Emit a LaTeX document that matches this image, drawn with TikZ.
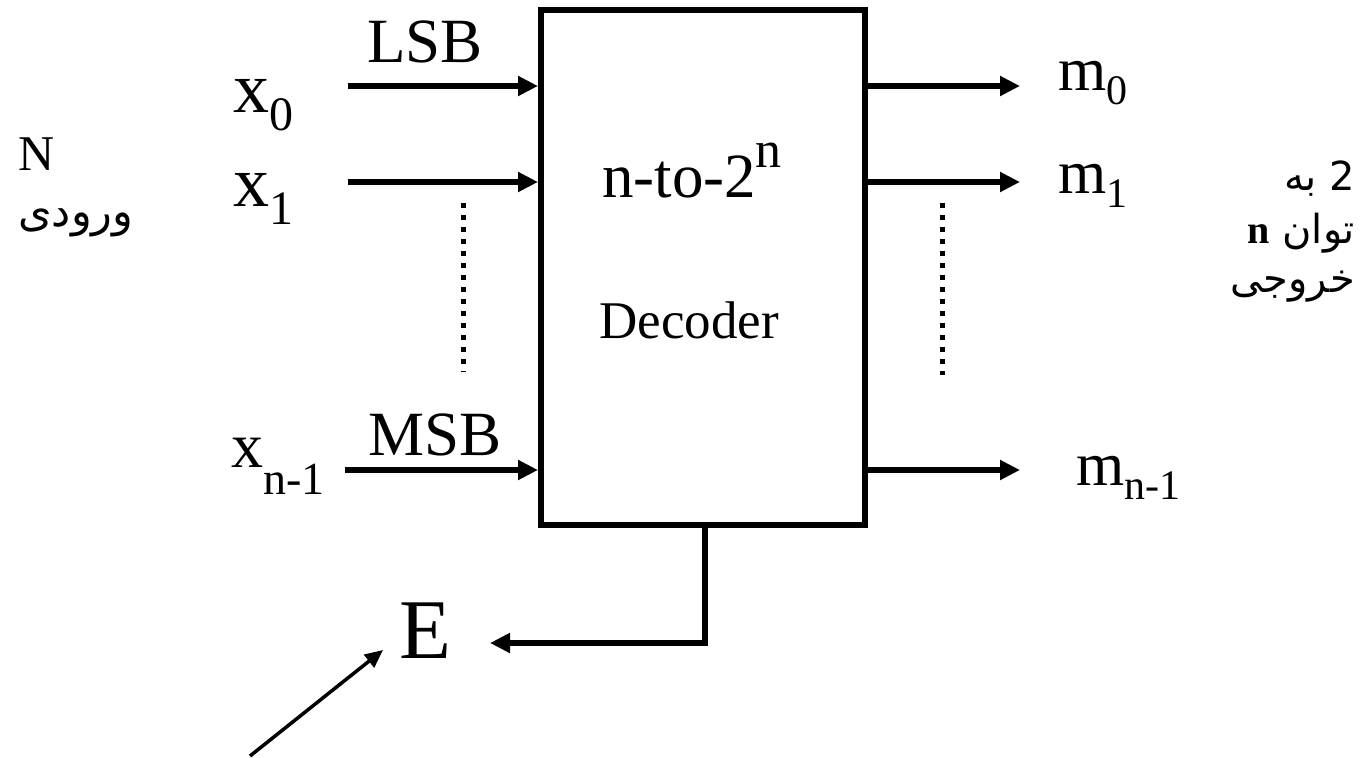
\documentclass[tikz,border=0pt]{standalone}
\usepackage{fontspec}
\setmainfont{Liberation Serif}
\newfontfamily\arabicfont[Script=Arabic]{DejaVu Sans}
\TeXXeTstate=1
\usetikzlibrary{arrows.meta}

\newcommand{\fsz}[1]{\fontsize{#1}{#1}\selectfont}
% letter with a lowered index: size, letter, index size, drop, index
\newcommand{\lowidx}[5]{{\fsz{#1}#2\raisebox{-#4pt}{\fsz{#3}#5}}}

\begin{document}
\begin{tikzpicture}[
			x=1pt, y=-1pt,
			wire/.style={line width=6pt, -{Triangle[length=20pt,width=19pt]}},
			thinwire/.style={line width=3.5pt, -{Triangle[length=18pt,width=16pt]}},
			dots/.style={line width=5pt, dash pattern=on 5pt off 7pt},
			decbox/.style={
				draw, line width=6pt, inner sep=0pt,
				minimum width=324pt, minimum height=515pt
			},
			lbl/.style={inner sep=0pt, anchor=base west},
			rlbl/.style={inner sep=0pt, anchor=base east}
			]
			\useasboundingbox (0,0) rectangle (1361,758);
			
			%% ── Decoder block ───────────────────────────────────────────
			\node[decbox] (dec) at (703,267.5) {};
			\node[inner sep=0pt, anchor=base] (title) at (692,197)
				{\fsz{63}n-to-2\raisebox{30pt}{\fsz{52}n}};
			\node[inner sep=0pt, anchor=base] (name) at (689,338) {\fsz{53}Decoder};
			
			%% ── Inputs ─────────────────────────────────────────────────
			\node[lbl] (x0) at (233,112) {\lowidx{72}{x}{48}{18}{0}};
			\node[lbl] (x1) at (233,206) {\lowidx{72}{x}{48}{18}{1}};
			\node[lbl] (xn) at (231,467) {\lowidx{64}{x}{46}{27}{n-1}};
			\node[lbl] (lsb) at (367,62)  {\fsz{63}LSB};
			\node[lbl] (msb) at (368,455) {\fsz{63}MSB};
			
			\coordinate (in0) at (348,86);
			\coordinate (in1) at (348,182);
			\coordinate (inn) at (345,470);
			\foreach \c in {in0, in1, inn}
			\draw[wire] (\c) -- (\c -| dec.west);
			
			\draw[dots] (463,203) -- (463,372);
			
			%% ── Outputs ────────────────────────────────────────────────
			\node[lbl] (m0) at (1058,90)  {\lowidx{62}{m}{42}{14}{0}};
			\node[lbl] (m1) at (1058,193) {\lowidx{62}{m}{42}{14}{1}};
			\node[lbl] (mn) at (1076,485) {\lowidx{62}{m}{42}{14}{n-1}};
			
			\coordinate (out0) at (1020,86);
			\coordinate (out1) at (1020,182);
			\coordinate (outn) at (1020,470);
			\foreach \c in {out0, out1, outn}
			\draw[wire] (\c -| dec.east) -- (\c);
			
			\draw[dots] (942,203) -- (942,375);
			
			%% ── Enable ─────────────────────────────────────────────────
			\node[lbl] (en) at (399,658) {\fsz{85}E};
			\coordinate (etip) at (490,643);
			\draw[wire] ([xshift=2pt]dec.south) |- (etip);
			
			\coordinate (pin)  at (250,756);
			\coordinate (pend) at (383,650);
			\draw[thinwire] (pin) -- (pend);
			
			%% ── Side notes ─────────────────────────────────────────────
			\node[lbl] (nin) at (18,170) {\fsz{50}N};
			\node[lbl] (win) at (18,226) {\fsz{43}\arabicfont\beginR ورودی\endR};
			
			\node[rlbl] (r1) at (1355,190) {\fsz{40}\arabicfont\beginR 2 به\endR};
			\node[rlbl] (r2) at (1355,243)
				{\fsz{40}\arabicfont\beginR توان {\rmfamily\bfseries n}\endR};
			\node[rlbl] (r3) at (1355,292) {\fsz{40}\arabicfont\beginR خروجی\endR};
			
		\end{tikzpicture}
\end{document}
